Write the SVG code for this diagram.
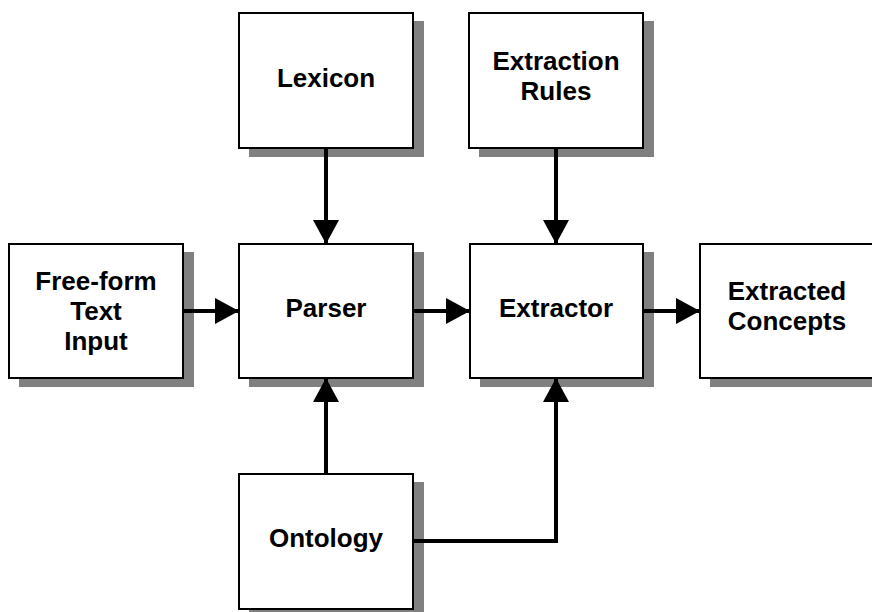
<svg xmlns="http://www.w3.org/2000/svg" width="872" height="612" viewBox="0 0 872 612">
  <style>
    .shadow { fill: #808080; }
    .box { fill: #ffffff; stroke: #000000; stroke-width: 2; }
    .label { font-family: "Liberation Sans", Arial, sans-serif; font-weight: bold; font-size: 26px; text-anchor: middle; fill: #000000; }
    .wire { fill: none; stroke: #000000; stroke-width: 4; }
  </style>
  <defs>
    <marker id="head" markerUnits="userSpaceOnUse" markerWidth="26" markerHeight="26" viewBox="0 0 24 26" refX="24" refY="13" orient="auto">
      <path d="M0,0 L24,13 L0,26 Z" fill="#000000"/>
    </marker>
  </defs>
  <rect width="872" height="612" fill="#ffffff"/>

  <g id="free-form-text-input">
    <rect class="shadow" x="19" y="252" width="175" height="135"/>
    <rect class="box" x="9" y="244" width="174" height="134"/>
    <text class="label" x="96" y="290">Free-form</text>
    <text class="label" x="96" y="320">Text</text>
    <text class="label" x="96" y="350">Input</text>
  </g>

  <g id="lexicon">
    <rect class="shadow" x="249" y="21" width="175" height="136"/>
    <rect class="box" x="239" y="13" width="174" height="135"/>
    <text class="label" x="326" y="87">Lexicon</text>
  </g>

  <g id="extraction-rules">
    <rect class="shadow" x="479" y="21" width="175" height="136"/>
    <rect class="box" x="469" y="13" width="174" height="135"/>
    <text class="label" x="556" y="70">Extraction</text>
    <text class="label" x="556" y="100">Rules</text>
  </g>

  <g id="parser">
    <rect class="shadow" x="249" y="252" width="175" height="135"/>
    <rect class="box" x="239" y="244" width="174" height="134"/>
    <text class="label" x="326" y="317">Parser</text>
  </g>

  <g id="extractor">
    <rect class="shadow" x="480" y="252" width="174" height="135"/>
    <rect class="box" x="470" y="244" width="173" height="134"/>
    <text class="label" x="556" y="317">Extractor</text>
  </g>

  <g id="extracted-concepts">
    <rect class="shadow" x="710" y="252" width="175" height="135"/>
    <rect class="box" x="700" y="244" width="174" height="134"/>
    <text class="label" x="787" y="300">Extracted</text>
    <text class="label" x="787" y="330">Concepts</text>
  </g>

  <g id="ontology">
    <rect class="shadow" x="249" y="482" width="175" height="136"/>
    <rect class="box" x="239" y="474" width="174" height="135"/>
    <text class="label" x="326" y="547">Ontology</text>
  </g>

  <g id="connectors">
    <line class="wire" x1="326" y1="148" x2="326" y2="244" marker-end="url(#head)"/>
    <line class="wire" x1="556" y1="148" x2="556" y2="244" marker-end="url(#head)"/>
    <line class="wire" x1="183" y1="311" x2="239" y2="311" marker-end="url(#head)"/>
    <line class="wire" x1="413" y1="311" x2="470" y2="311" marker-end="url(#head)"/>
    <line class="wire" x1="643" y1="311" x2="700" y2="311" marker-end="url(#head)"/>
    <line class="wire" x1="326" y1="474" x2="326" y2="378" marker-end="url(#head)"/>
    <polyline class="wire" points="413,541 556,541 556,378" marker-end="url(#head)"/>
  </g>
</svg>
